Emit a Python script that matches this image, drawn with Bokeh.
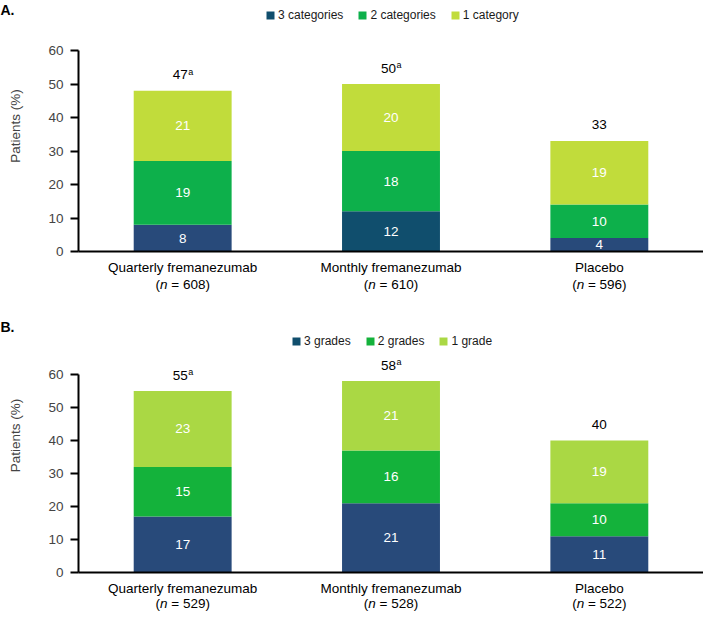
from bokeh.plotting import figure
from bokeh.layouts import column
from bokeh.models import ColumnDataSource, Range1d, FixedTicker, Legend, LegendItem
from bokeh.core.properties import value
from bokeh.embed import file_html
from bokeh.resources import INLINE

# ---- data ----
groups = ["Quarterly fremanezumab", "Monthly fremanezumab", "Placebo"]

a_legend = ["3 categories", "2 categories", "1 category"]
a_n = [608, 610, 596]
a_three = [8, 12, 4]
a_two = [19, 18, 10]
a_one = [21, 20, 19]
a_total = [47, 50, 33]
a_sup = ["a", "a", ""]

b_legend = ["3 grades", "2 grades", "1 grade"]
b_n = [529, 528, 522]
b_three = [17, 21, 11]
b_two = [15, 16, 10]
b_one = [23, 21, 19]
b_total = [55, 58, 40]
b_sup = ["a", "a", ""]

y_ticks = [0, 10, 20, 30, 40, 50, 60]
y_max = 60

FONT = "Liberation Sans"
NAVY = "#284a7a"
TEAL = "#104e6d"
FS = "13.5px"

WIDTH = 703
LEFT = 78


def make_panel(letter, legend_labels, n, three, two, one, total, sup,
               three_colors, green, light, height, axis_top, axis_bottom,
               legend_x, legend_center, letter_center, ny):
    # frame spans from canvas top down to the x axis; the 0-60 scale occupies axis_top..axis_bottom
    frame_h = axis_bottom
    y_end = y_max * axis_bottom / (axis_bottom - axis_top)
    p = figure(x_range=groups, y_range=Range1d(0, y_end), width=WIDTH, height=height,
               output_backend="svg", toolbar_location=None,
               min_border_left=LEFT, min_border_right=0,
               min_border_top=0, min_border_bottom=height - axis_bottom)
    p.x_range.range_padding = 0
    p.outline_line_color = None
    p.xgrid.visible = False
    p.ygrid.visible = False
    p.background_fill_color = "white"

    b2 = [a + b for a, b in zip(three, two)]
    b3 = [a + b for a, b in zip(b2, one)]
    src = ColumnDataSource(dict(
        g=groups, three=three, two=two, one=one, b2=b2, b3=b3,
        c3=three_colors,
        m1=[t / 2 for t in three],
        m2=[a + b / 2 for a, b in zip(three, two)],
        m3=[a + b / 2 for a, b in zip(b2, one)],
        l1=[str(v) for v in three], l2=[str(v) for v in two], l3=[str(v) for v in one],
    ))
    W = 0.47
    p.vbar(x="g", bottom=0, top="three", width=W, fill_color="c3", line_color=None, source=src)
    p.vbar(x="g", bottom="three", top="b2", width=W, fill_color=green, line_color=None, source=src)
    p.vbar(x="g", bottom="b2", top="b3", width=W, fill_color=light, line_color=None, source=src)

    for mid, lab in (("m1", "l1"), ("m2", "l2"), ("m3", "l3")):
        p.text(x="g", y=mid, text=lab, source=src, text_align="center", text_baseline="middle",
               text_color="white", text_font=value(FONT), text_font_size=FS)

    # totals above bars
    with_sup = [i for i, s in enumerate(sup) if s]
    no_sup = [i for i, s in enumerate(sup) if not s]
    p.text(x=[groups[i] for i in with_sup], y=[b3[i] for i in with_sup],
           text=[str(total[i]) for i in with_sup], x_offset=5, y_offset=-16,
           text_align="right", text_baseline="middle", text_color="black",
           text_font=value(FONT), text_font_size=FS, level="overlay")
    p.text(x=[groups[i] for i in with_sup], y=[b3[i] for i in with_sup],
           text=[sup[i] for i in with_sup], x_offset=5.5, y_offset=-19,
           text_align="left", text_baseline="middle", text_color="black",
           text_font=value(FONT), text_font_size="9px", level="overlay")
    p.text(x=[groups[i] for i in no_sup], y=[b3[i] for i in no_sup],
           text=[str(total[i]) for i in no_sup], y_offset=-16,
           text_align="center", text_baseline="middle", text_color="black",
           text_font=value(FONT), text_font_size=FS, level="overlay")

    # second line of category labels: (n = ...)
    p.text(x=groups, y=[0] * 3, text=["("] * 3, x_offset=-27.2, y_offset=ny,
           text_align="left", text_baseline="middle", text_color="black",
           text_font=value(FONT), text_font_size=FS, level="overlay")
    p.text(x=groups, y=[0] * 3, text=["n"] * 3, x_offset=-22.7, y_offset=ny,
           text_align="left", text_baseline="middle", text_color="black",
           text_font=value(FONT), text_font_size=FS, text_font_style="italic", level="overlay")
    p.text(x=groups, y=[0] * 3, text=["= %d)" % v for v in n], x_offset=-11.4, y_offset=ny,
           text_align="left", text_baseline="middle", text_color="black",
           text_font=value(FONT), text_font_size=FS, level="overlay")

    # panel letter at the canvas' top-left corner
    frame_w = WIDTH - LEFT
    p.text(x=[groups[0]], y=[y_end], text=[letter], x_offset=-(LEFT + frame_w / (2 * len(groups))),
           y_offset=letter_center, text_align="left", text_baseline="middle", text_color="black",
           text_font=value(FONT), text_font_size="14px", text_font_style="bold", level="overlay")

    # axes
    p.yaxis.ticker = FixedTicker(ticks=y_ticks)
    p.yaxis.bounds = (0, y_max)
    p.yaxis.axis_label = "Patients (%)"
    p.yaxis.axis_label_text_font = FONT
    p.yaxis.axis_label_text_font_size = FS
    p.yaxis.axis_label_text_font_style = "normal"
    p.yaxis.axis_label_standoff = 22
    p.yaxis.major_label_text_font = FONT
    p.yaxis.major_label_text_font_size = FS
    p.yaxis.major_label_standoff = 7
    p.yaxis.major_tick_out = 8
    p.yaxis.major_tick_in = 0
    p.yaxis.major_tick_line_width = 2
    p.yaxis.minor_tick_line_color = None
    p.yaxis.axis_line_width = 2
    p.yaxis.axis_line_color = "black"
    p.yaxis.major_tick_line_color = "black"

    p.xaxis.major_tick_line_color = None
    p.xaxis.major_tick_out = 0
    p.xaxis.axis_line_width = 2
    p.xaxis.axis_line_color = "black"
    p.xaxis.major_label_text_font = FONT
    p.xaxis.major_label_text_font_size = FS
    p.xaxis.major_label_standoff = 8
    p.xaxis.major_label_text_color = "black"

    # legend (inside the frame, above the 0-60 scale); swatch renderers are zero-height bars
    legend_colors = [TEAL, green, light]
    items = []
    for lab, col in zip(legend_labels, legend_colors):
        r = p.vbar(x=[groups[0]], bottom=[0], top=[0], width=0.01, fill_color=col,
                   line_color=None)
        items.append(LegendItem(label=lab, renderers=[r]))
    leg_h = 14
    leg = Legend(items=items, orientation="horizontal",
                 location=(legend_x - LEFT, frame_h - legend_center - leg_h / 2),
                 padding=0, margin=0, border_line_alpha=0, background_fill_alpha=0,
                 glyph_width=10, glyph_height=10, label_standoff=3, spacing=14,
                 label_height=leg_h, label_text_font=FONT, label_text_font_size="12px",
                 label_text_color="#1a1a1a", label_text_baseline="middle")
    p.add_layout(leg, "center")
    return p


pA = make_panel("A.", a_legend, a_n, a_three, a_two, a_one, a_total, a_sup,
                [NAVY, TEAL, NAVY], "#0db04b", "#c1dc3b",
                height=298, axis_top=50, axis_bottom=251,
                legend_x=265, legend_center=15, letter_center=9, ny=33)
pB = make_panel("B.", b_legend, b_n, b_three, b_two, b_one, b_total, b_sup,
                [NAVY, NAVY, NAVY], "#14b23b", "#aad844",
                height=316, axis_top=76, axis_bottom=274,
                legend_x=291, legend_center=43, letter_center=28, ny=31)

layout = column(pA, pB, spacing=0)
open("out.html", "w").write(file_html(layout, INLINE))
